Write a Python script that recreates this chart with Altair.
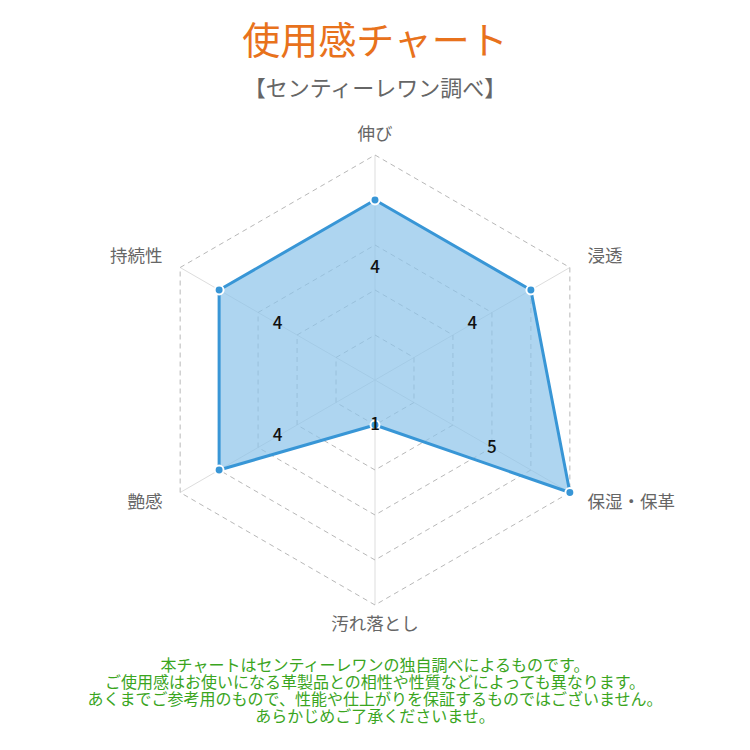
import math
import pandas as pd
import altair as alt

# ---- data ----
categories = ["伸び", "浸透", "保湿・保革", "汚れ落とし", "艶感", "持続性"]
scores = [4, 4, 5, 1, 4, 4]
levels = [1, 2, 3, 4, 5]
title_text = "使用感チャート"
subtitle_text = "【センティーレワン調べ】"
footer_lines = [
    "本チャートはセンティーレワンの独自調べによるものです。",
    "ご使用感はお使いになる革製品との相性や性質などによっても異なります。",
    "あくまでご参考用のもので、性能や仕上がりを保証するものではございません。",
    "あらかじめご了承くださいませ。",
]

# ---- style / geometry ----
MAX_LEVEL = 5
PX_PER_UNIT = 45
W = 734
H = 530
TOP = 110          # page y of plot-area top
CENTER_Y = 380     # page y of radar center
LABEL_R = 5.45
FONT = "Noto Sans CJK JP"
BLUE = "#3896d6"
FILL = "#8cc3ea"
GRID = "#b8b8b8"
SPOKE = "#dddddd"

n = len(categories)
angles = [math.pi / 2 - 2 * math.pi * i / n for i in range(n)]

rings = []
for lv in levels:
    for k in range(n + 1):
        a = angles[k % n]
        rings.append({"level": lv, "ord": k, "x": lv * math.cos(a), "y": lv * math.sin(a)})
rings = pd.DataFrame(rings)

spokes = []
for i, a in enumerate(angles):
    spokes.append({"axis": i, "ord": 0, "x": 0.0, "y": 0.0})
    spokes.append({"axis": i, "ord": 1, "x": MAX_LEVEL * math.cos(a), "y": MAX_LEVEL * math.sin(a)})
spokes = pd.DataFrame(spokes)

poly = []
for k in range(n + 1):
    a = angles[k % n]
    s = scores[k % n]
    poly.append({"ord": k, "x": s * math.cos(a), "y": s * math.sin(a)})
poly = pd.DataFrame(poly)

pts = pd.DataFrame({
    "cat": categories,
    "score": scores,
    "x": [s * math.cos(a) for s, a in zip(scores, angles)],
    "y": [s * math.sin(a) for s, a in zip(scores, angles)],
    "lx": [(s + 1) / 2 * math.cos(a) for s, a in zip(scores, angles)],
    "ly": [(s + 1) / 2 * math.sin(a) for s, a in zip(scores, angles)],
})

def side(a):
    c = math.cos(a)
    if abs(c) < 1e-6:
        return "center"
    return "left" if c > 0 else "right"

labels = pd.DataFrame({
    "cat": categories,
    "x": [LABEL_R * math.cos(a) for a in angles],
    "y": [LABEL_R * math.sin(a) for a in angles],
    "side": [side(a) for a in angles],
})

half_w = W / (2 * PX_PER_UNIT)
y_top = (CENTER_Y - TOP) / PX_PER_UNIT
y_bot = -(TOP + H - CENTER_Y) / PX_PER_UNIT

xs = alt.Scale(domain=[-half_w, half_w], nice=False, zero=False)
ys = alt.Scale(domain=[y_bot, y_top], nice=False, zero=False)
X = lambda f: alt.X(f, type="quantitative", scale=xs, axis=None)
Y = lambda f: alt.Y(f, type="quantitative", scale=ys, axis=None)

spoke_layer = alt.Chart(spokes).mark_line(color=SPOKE, strokeWidth=1).encode(
    x=X("x"), y=Y("y"), detail="axis:N", order="ord:Q")

ring_layer = alt.Chart(rings).mark_line(color=GRID, strokeWidth=1, strokeDash=[5, 4]).encode(
    x=X("x"), y=Y("y"), detail="level:N", order="ord:Q")

fill_layer = alt.Chart(poly).mark_line(fill=FILL, fillOpacity=0.7, strokeWidth=0, stroke="transparent").encode(
    x=X("x"), y=Y("y"), order="ord:Q")

line_layer = alt.Chart(poly).mark_line(color=BLUE, strokeWidth=3, strokeJoin="round").encode(
    x=X("x"), y=Y("y"), order="ord:Q")

pt_layer = alt.Chart(pts).mark_point(filled=True, color=BLUE, size=80, opacity=1,
                                     stroke="white", strokeWidth=2).encode(
    x=X("x"), y=Y("y"))

val_layer = alt.Chart(pts).mark_text(font=FONT, fontSize=17, color="#111111", fontWeight=500,
                                     baseline="middle").encode(
    x=X("lx"), y=Y("ly"), text="score:Q")

lab_layers = []
for al in ["left", "center", "right"]:
    lab_layers.append(
        alt.Chart(labels).transform_filter(alt.datum.side == al).mark_text(
            font=FONT, fontSize=17.5, color="#666666", align=al, baseline="middle").encode(
            x=X("x"), y=Y("y"), text="cat:N"))

radar = alt.layer(spoke_layer, ring_layer, fill_layer, line_layer, pt_layer, val_layer, *lab_layers).properties(
    width=W, height=H,
    title=alt.Title(text=footer_lines, orient="bottom", anchor="middle", font=FONT, fontSize=16,
                    fontWeight="normal", color="#3aa51e", lineHeight=17, offset=18),
)

chart = alt.vconcat(radar, spacing=0).properties(
    padding={"top": 16, "left": 0, "right": 0, "bottom": 12},
    title=alt.Title(text=title_text, subtitle=subtitle_text, anchor="middle", font=FONT,
                    fontSize=38, fontWeight="normal", color="#e8721c",
                    subtitleFont=FONT, subtitleFontSize=22, subtitleColor="#666666",
                    subtitlePadding=17, offset=10),
).configure_view(stroke=None).configure_concat(spacing=0)

chart.save("out.html", embed_options={"renderer": "svg", "actions": False})
